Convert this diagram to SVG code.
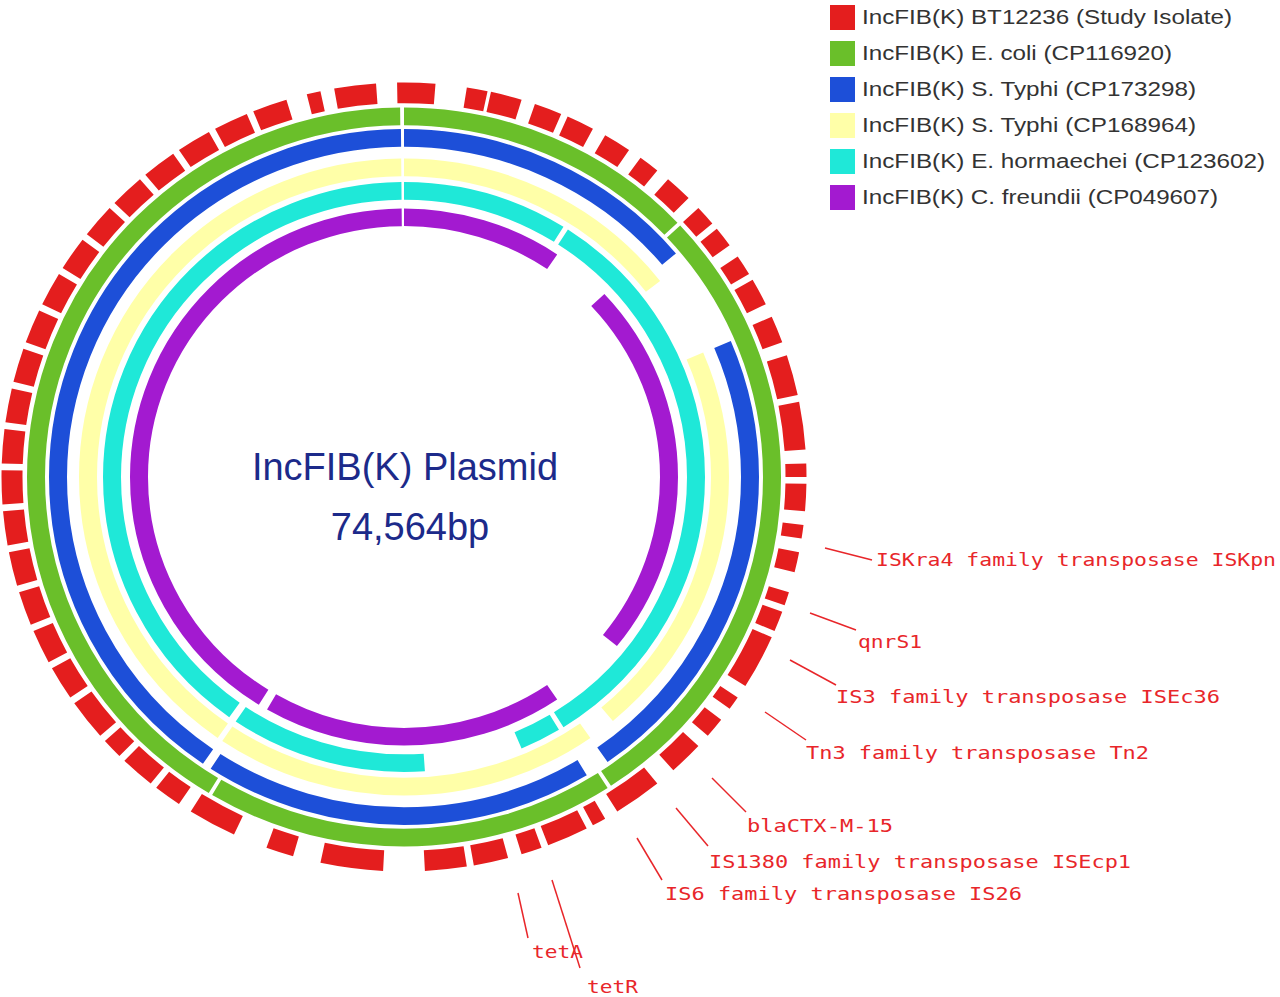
<svg xmlns="http://www.w3.org/2000/svg" width="1280" height="997" viewBox="0 0 1280 997">
<style>
.tr{fill:none;stroke-width:18}
.lb{font-family:"DejaVu Sans Mono","Liberation Mono",monospace;font-size:18px;fill:#e8262a}
.ld{stroke:#e8262a;stroke-width:1.5}
.lg{font-family:"Liberation Sans",Arial,sans-serif;font-size:20px;fill:#333}
.ct{font-family:"Liberation Sans",Arial,sans-serif;font-size:38px;fill:#1c2a8a;text-anchor:middle}
</style>
<rect width="1280" height="997" fill="#fff"/>
<g id="tracks" transform="translate(404,477) scale(1,0.98) rotate(-90)">
<circle id="features" class="tr" style="stroke-width:21" r="392" pathLength="360" stroke="#e41e1e" stroke-dasharray="4.5 4.5 3 0.5 4.5 2 4 1 4 2 4 2 3 2 4 2 3 1 3 2 3 1 4 2 4 2 6 1 7 2 2 1 4 2 2 2 3 3 2 1 3 1 8 2 2 2 3 2 5 3 7 2 2 1 6 1 3 2 5 1 6 6 9 4 4 5 7 2 4 1 5 1 3 1 6 1 5 1 5 1 5 1 5 1 5 1 5 1 5 1 5 1 5 1 5 1 5 1 5 1 5 1 5 1 5 1 5 1 5 1 5 3 2 2 6 3"/>
<circle id="ecoli" class="tr" r="368" pathLength="360" stroke="#6abf2a" stroke-dasharray="46.5 0.6 99.6 0.6 63.3 0.6 148.2 0.6"/>
<circle id="styphi1" class="tr" r="346" pathLength="360" stroke="#1d4fd8" stroke-dasharray="50 17 78 4 64 1.5 145 0.5"/>
<circle id="styphi2" class="tr" r="316" pathLength="360" stroke="#ffffa8" stroke-dasharray="52 15 73 5 69 1 144.5 0.5"/>
<circle id="ehorm" class="tr" r="292" pathLength="360" stroke="#1fe8d8" stroke-dasharray="32 1 115 1 8 19 38 1.5 144 0.5"/>
<circle id="cfreun" class="tr" r="265" pathLength="360" stroke="#a31ad0" stroke-dasharray="34 13 82 17 64 2 147.5 0.5"/>
</g>
<g id="center">
<text class="ct" x="405" y="480">IncFIB(K) Plasmid</text>
<text class="ct" x="410" y="540">74,564bp</text>
</g>
<g id="connectors">
<line class="ld" x1="825" y1="548" x2="872" y2="560"/>
<line class="ld" x1="810" y1="613" x2="856" y2="630"/>
<line class="ld" x1="790" y1="660" x2="836" y2="685"/>
<line class="ld" x1="765" y1="712" x2="806" y2="740"/>
<line class="ld" x1="712" y1="778" x2="746" y2="812"/>
<line class="ld" x1="676" y1="808" x2="708" y2="846"/>
<line class="ld" x1="637" y1="838" x2="662" y2="880"/>
<line class="ld" x1="518" y1="893" x2="528" y2="938"/>
<line class="ld" x1="552" y1="880" x2="580" y2="968"/>
</g>
<g id="labels">
<text class="lb" x="876" y="566" textLength="400" lengthAdjust="spacingAndGlyphs">ISKra4 family transposase ISKpn</text>
<text class="lb" x="858" y="648" textLength="64" lengthAdjust="spacingAndGlyphs">qnrS1</text>
<text class="lb" x="836" y="703" textLength="384" lengthAdjust="spacingAndGlyphs">IS3 family transposase ISEc36</text>
<text class="lb" x="806" y="759" textLength="343" lengthAdjust="spacingAndGlyphs">Tn3 family transposase Tn2</text>
<text class="lb" x="747" y="832" textLength="146" lengthAdjust="spacingAndGlyphs">blaCTX-M-15</text>
<text class="lb" x="709" y="868" textLength="422" lengthAdjust="spacingAndGlyphs">IS1380 family transposase ISEcp1</text>
<text class="lb" x="665" y="900" textLength="357" lengthAdjust="spacingAndGlyphs">IS6 family transposase IS26</text>
<text class="lb" x="532" y="958" textLength="51" lengthAdjust="spacingAndGlyphs">tetA</text>
<text class="lb" x="587" y="993" textLength="51" lengthAdjust="spacingAndGlyphs">tetR</text>
</g>
<g id="legend">
<rect x="830" y="5" width="25" height="25" fill="#e41e1e"/><text class="lg" x="862" y="24" textLength="370" lengthAdjust="spacingAndGlyphs">IncFIB(K) BT12236 (Study Isolate)</text>
<rect x="830" y="41" width="25" height="25" fill="#6abf2a"/><text class="lg" x="862" y="60" textLength="310" lengthAdjust="spacingAndGlyphs">IncFIB(K) E. coli (CP116920)</text>
<rect x="830" y="77" width="25" height="25" fill="#1d4fd8"/><text class="lg" x="862" y="96" textLength="334" lengthAdjust="spacingAndGlyphs">IncFIB(K) S. Typhi (CP173298)</text>
<rect x="830" y="113" width="25" height="25" fill="#ffffa8"/><text class="lg" x="862" y="132" textLength="334" lengthAdjust="spacingAndGlyphs">IncFIB(K) S. Typhi (CP168964)</text>
<rect x="830" y="149" width="25" height="25" fill="#1fe8d8"/><text class="lg" x="862" y="168" textLength="403" lengthAdjust="spacingAndGlyphs">IncFIB(K) E. hormaechei (CP123602)</text>
<rect x="830" y="185" width="25" height="25" fill="#a31ad0"/><text class="lg" x="862" y="204" textLength="356" lengthAdjust="spacingAndGlyphs">IncFIB(K) C. freundii (CP049607)</text>
</g>
</svg>
